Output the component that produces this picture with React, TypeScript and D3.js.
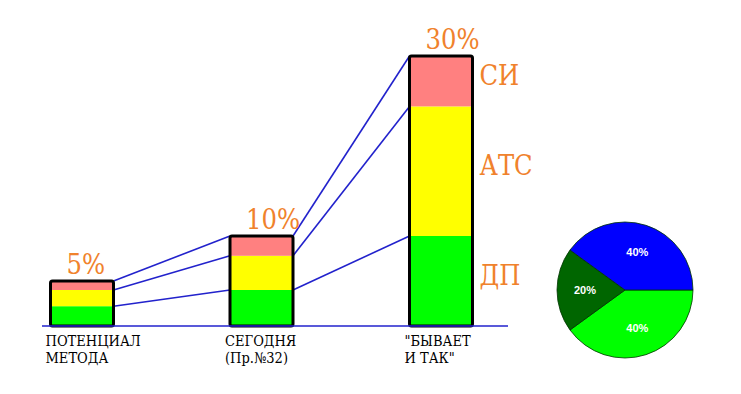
import React from "react";
import * as d3 from "d3";

const categories = ["potential", "today", "sometimes"];
const categoryLines = [
  ["ПОТЕНЦИАЛ", "МЕТОДА"],
  ["СЕГОДНЯ", "(Пр.№32)"],
  ['"БЫВАЕТ', 'И ТАК"'],
];
const seriesKeys = ["ДП", "АТС", "СИ"];
const dpValues = [2.2, 4.0, 10.0];
const atsValues = [1.8, 3.8, 14.4];
const siValues = [1.0, 2.2, 5.6];
const totalLabels = ["5%", "10%", "30%"];

const pieLabels = ["40%", "20%", "40%"];
const pieValues = [40, 20, 40];

const segColors = { "ДП": "#00ff00", "АТС": "#ffff00", "СИ": "#ff8080" };
const pieColors = ["#00ff00", "#006600", "#0000ff"];
const orange = "#f0822c";
const blue = "#2222cc";
const serif = "'DejaVu Serif Condensed', 'DejaVu Serif', serif";

const W = 741;
const H = 394;
const baseY = 326;
const barW = 63;

export default function App() {
  const rows = categories.map((c, i) => ({
    cat: c,
    "ДП": dpValues[i],
    "АТС": atsValues[i],
    "СИ": siValues[i],
  }));
  const stacked = d3.stack<any>().keys(seriesKeys)(rows);

  const x = d3.scalePoint().domain(categories).range([82, 441]);
  const y = d3.scaleLinear().domain([0, 30]).range([baseY, 56]);

  const x0 = (c: string) => (x(c) as number) - barW / 2;
  const x1 = (c: string) => (x(c) as number) + barW / 2;

  // connector lines at each stack boundary between neighbouring bars
  const connectors: { a: [number, number]; b: [number, number] }[] = [];
  stacked.forEach((layer) => {
    for (let i = 0; i < categories.length - 1; i++) {
      connectors.push({
        a: [x1(categories[i]), y(layer[i][1])],
        b: [x0(categories[i + 1]), y(layer[i + 1][1])],
      });
    }
  });

  const last = categories.length - 1;

  const pie = d3
    .pie<number>()
    .sort(null)
    .startAngle(Math.PI / 2)
    .endAngle(Math.PI / 2 + 2 * Math.PI)(pieValues);
  const r = 68;
  const arc = d3.arc<d3.PieArcDatum<number>>().innerRadius(0).outerRadius(r);
  const labelArc = d3.arc<d3.PieArcDatum<number>>().innerRadius(40).outerRadius(40);

  const big = { fontFamily: serif, fontStretch: "condensed", fontSize: 27 } as React.CSSProperties;
  const small = { fontFamily: serif, fontStretch: "condensed", fontSize: 14.5 } as React.CSSProperties;

  return (
    <svg
      width={W}
      height={H}
      style={{ position: "absolute", left: 0, top: 0, display: "block", background: "#fff" }}
    >
      {connectors.map((l, i) => (
        <line key={"c" + i} x1={l.a[0]} y1={l.a[1]} x2={l.b[0]} y2={l.b[1]} stroke={blue} strokeWidth={1.6} />
      ))}

      {stacked.map((layer) =>
        layer.map((d, i) => (
          <rect
            key={layer.key + i}
            x={x0(categories[i])}
            y={y(d[1])}
            width={barW}
            height={y(d[0]) - y(d[1])}
            fill={(segColors as any)[layer.key]}
          />
        ))
      )}

      {categories.map((c, i) => {
        const top = stacked[stacked.length - 1][i][1];
        return (
          <g key={"b" + c}>
            <rect
              x={x0(c)}
              y={y(top)}
              width={barW}
              height={y(0) - y(top)}
              fill="none"
              stroke="#000"
              strokeWidth={3}
              rx={2}
            />
            <text x={x0(c) + 16} y={y(top) - 7} style={big} fill={orange}>
              {totalLabels[i]}
            </text>
            {categoryLines[i].map((t, j) => (
              <text key={j} x={x0(c) - 5} y={346 + j * 17} style={small} fill="#000">
                {t}
              </text>
            ))}
          </g>
        );
      })}

      <line x1={42} x2={508} y1={baseY} y2={baseY} stroke={blue} strokeWidth={1.6} />

      {stacked.map((layer) => (
        <text
          key={"s" + layer.key}
          x={x1(categories[last]) + 7}
          y={y((layer[last][0] + layer[last][1]) / 2) + 4}
          style={big}
          fill={orange}
        >
          {layer.key}
        </text>
      ))}

      <g transform="translate(625,290)">
        {pie.map((p, i) => (
          <path key={"p" + i} d={arc(p) as string} fill={pieColors[i]} stroke="#003300" strokeWidth={0.8} />
        ))}
        {pie.map((p, i) => {
          const [cx, cy] = labelArc.centroid(p);
          return (
            <text
              key={"pl" + i}
              x={cx}
              y={cy}
              dy="0.35em"
              textAnchor="middle"
              style={{ fontFamily: "'Liberation Sans', Arial, sans-serif", fontWeight: "bold", fontSize: 11 }}
              fill="#fff"
            >
              {pieLabels[i]}
            </text>
          );
        })}
      </g>
    </svg>
  );
}
